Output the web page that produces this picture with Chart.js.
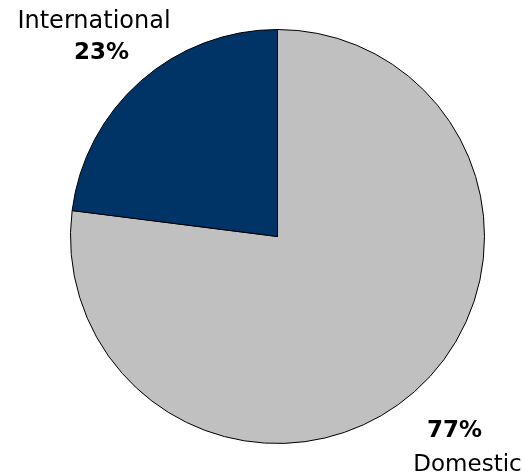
<!DOCTYPE html>
<html>
<head>
<meta charset="utf-8">
<script src="https://cdn.jsdelivr.net/npm/chart.js@4"></script>
<style>
  html, body { margin: 0; padding: 0; background: #fff; }
  #wrap { width: 524px; height: 474px; }
</style>
</head>
<body>
<div id="wrap"><canvas id="shareChart" width="524" height="474"></canvas></div>
<script>
// Data (clockwise from 12 o'clock)
const categories = ["Domestic", "International"];
const shares = [77, 23];
const sliceColors = ["#C0C0C0", "#003366"];

const FONT = "'DejaVu Sans', Verdana, sans-serif";

// label text next to the slices, placed relative to pie centre
const sliceLabels = {
    id: "sliceLabels",
    afterDraw(chart) {
        const ctx = chart.ctx;
        const arc = chart.getDatasetMeta(0).data[0];
        const cx = arc.x, cy = arc.y;
        ctx.save();
        ctx.fillStyle = "#000";
        ctx.textAlign = "center";
        ctx.textBaseline = "alphabetic";

        // International
        ctx.font = "24px " + FONT;
        ctx.fillText(categories[1], cx - 183.5, cy - 208.5);
        ctx.font = "bold 23px " + FONT;
        ctx.fillText(shares[1] + "%", cx - 176, cy - 177.5);

        // Domestic
        ctx.font = "bold 23px " + FONT;
        ctx.fillText(shares[0] + "%", cx + 177, cy + 200.5);
        ctx.font = "23px " + FONT;
        ctx.fillText(categories[0], cx + 190, cy + 234);
        ctx.restore();
    }
};

new Chart(document.getElementById("shareChart"), {
    type: "pie",
    data: {
        labels: categories,
        datasets: [{
            data: shares,
            backgroundColor: sliceColors,
            borderColor: "#000",
            borderWidth: 1
        }]
    },
    options: {
        responsive: false,
        animation: false,
        layout: { padding: { left: 70, right: 39, top: 29, bottom: 30 } },
        plugins: {
            legend: { display: false },
            tooltip: { enabled: false }
        }
    },
    plugins: [sliceLabels]
});
</script>
</body>
</html>
